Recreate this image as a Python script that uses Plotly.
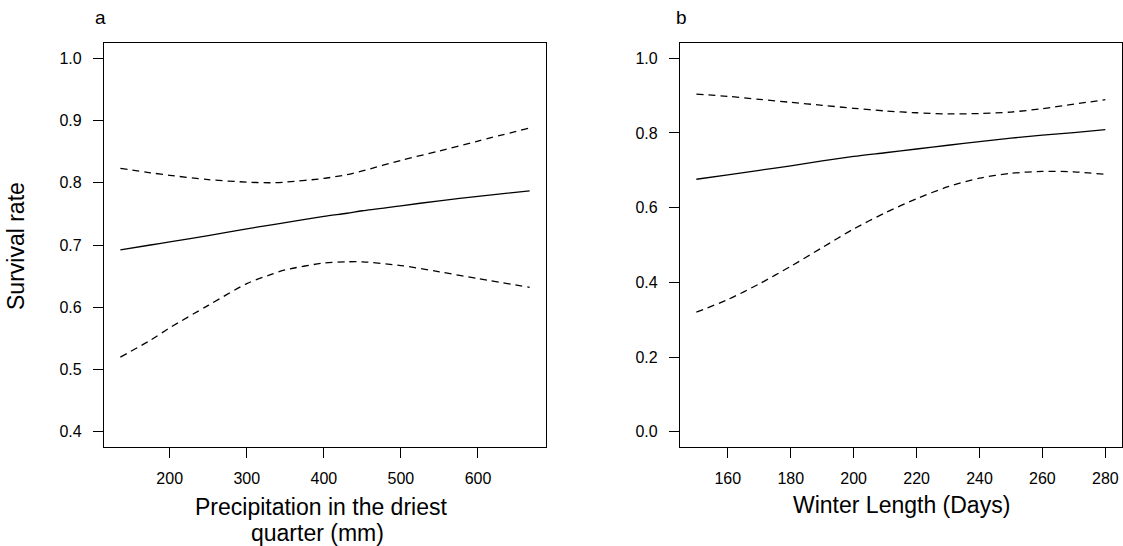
import plotly.graph_objects as go

# Panel a: survival vs precipitation in the driest quarter
precip_x = [136, 175, 200, 250, 300, 330, 350, 400, 430, 450, 500, 550, 600, 667]
precip_fit = [0.692, 0.700, 0.705, 0.715, 0.726, 0.732, 0.736, 0.746, 0.751, 0.755, 0.763, 0.771, 0.778, 0.787]
precip_upper = [0.823, 0.816, 0.812, 0.805, 0.801, 0.800, 0.801, 0.807, 0.813, 0.819, 0.836, 0.851, 0.867, 0.888]
precip_lower = [0.520, 0.547, 0.567, 0.603, 0.638, 0.652, 0.660, 0.671, 0.673, 0.673, 0.667, 0.657, 0.646, 0.632]

# Panel b: survival vs winter length
winter_x = [150, 160, 170, 180, 190, 200, 210, 220, 230, 240, 250, 260, 270, 280]
winter_fit = [0.676, 0.688, 0.700, 0.712, 0.725, 0.737, 0.747, 0.757, 0.767, 0.777, 0.786, 0.794, 0.801, 0.809]
winter_upper = [0.904, 0.898, 0.890, 0.882, 0.874, 0.866, 0.859, 0.854, 0.851, 0.852, 0.856, 0.865, 0.877, 0.889]
winter_lower = [0.320, 0.354, 0.396, 0.443, 0.493, 0.543, 0.586, 0.624, 0.656, 0.679, 0.692, 0.697, 0.696, 0.689]

precip_ticks = [200, 300, 400, 500, 600]
precip_yticks = [0.4, 0.5, 0.6, 0.7, 0.8, 0.9, 1.0]
winter_ticks = [160, 180, 200, 220, 240, 260, 280]
winter_yticks = [0.0, 0.2, 0.4, 0.6, 0.8, 1.0]

FONT = "Liberation Sans, Arial, Helvetica, sans-serif"
W, H = 1123, 546

fig = go.Figure()


def add_panel(x, fit, upper, lower, xa, ya):
    for ys, dash in ((fit, "solid"), (upper, "7px,5px"), (lower, "7px,5px")):
        fig.add_trace(go.Scatter(
            x=x, y=ys, mode="lines", xaxis=xa, yaxis=ya,
            line=dict(color="black", width=1.3, dash=dash, shape="spline", smoothing=0.8),
            showlegend=False, hoverinfo="skip",
        ))


add_panel(precip_x, precip_fit, precip_upper, precip_lower, "x", "y")
add_panel(winter_x, winter_fit, winter_upper, winter_lower, "x2", "y2")


def px_x(v):
    return v / W


def px_y(v):
    return 1 - v / H


box_top, box_bottom = 43.3, 446.7
ydom = [px_y(box_bottom), px_y(box_top)]

axis_common = dict(
    showline=True, mirror=True, linecolor="black", linewidth=1.2,
    ticks="outside", ticklen=10, tickwidth=1.2, tickcolor="black",
    showgrid=False, zeroline=False,
    tickfont=dict(family=FONT, size=16, color="black"),
)


def pad(lo, hi):
    d = (hi - lo) * 0.04
    return [lo - d, hi + d]


fig.update_layout(
    width=W, height=H,
    margin=dict(l=0, r=0, t=0, b=0),
    paper_bgcolor="white", plot_bgcolor="white",
    font=dict(family=FONT, color="black"),
    xaxis=dict(domain=[px_x(104), px_x(546)], anchor="y", range=pad(min(precip_x), max(precip_x)),
               tickvals=precip_ticks, ticklabelstandoff=7, **axis_common),
    yaxis=dict(domain=ydom, anchor="x", range=pad(0.4, 1.0),
               tickvals=precip_yticks, tickformat=".1f", ticklabelstandoff=8, **axis_common),
    xaxis2=dict(domain=[px_x(680), px_x(1121.7)], anchor="y2", range=pad(min(winter_x), max(winter_x)),
                tickvals=winter_ticks, ticklabelstandoff=7, **axis_common),
    yaxis2=dict(domain=ydom, anchor="x2", range=pad(0.0, 1.0),
                tickvals=winter_yticks, tickformat=".1f", ticklabelstandoff=8, **axis_common),
)

title_font = dict(family=FONT, size=23, color="black")
annotations = [
    dict(text="a", x=px_x(100), y=px_y(17), font=dict(family=FONT, size=19, color="black")),
    dict(text="b", x=px_x(681), y=px_y(17), font=dict(family=FONT, size=19, color="black")),
    dict(text="Precipitation in the driest", x=px_x(321), y=px_y(507), font=title_font),
    dict(text="quarter (mm)", x=px_x(317), y=px_y(533), font=title_font),
    dict(text="Winter Length (Days)", x=px_x(901), y=px_y(505), font=title_font),
    dict(text="Survival rate", x=px_x(16), y=px_y(246), textangle=-90, font=title_font),
]
for a in annotations:
    fig.add_annotation(xref="paper", yref="paper", showarrow=False,
                       xanchor="center", yanchor="middle", **a)

fig.write_html("out.html")
